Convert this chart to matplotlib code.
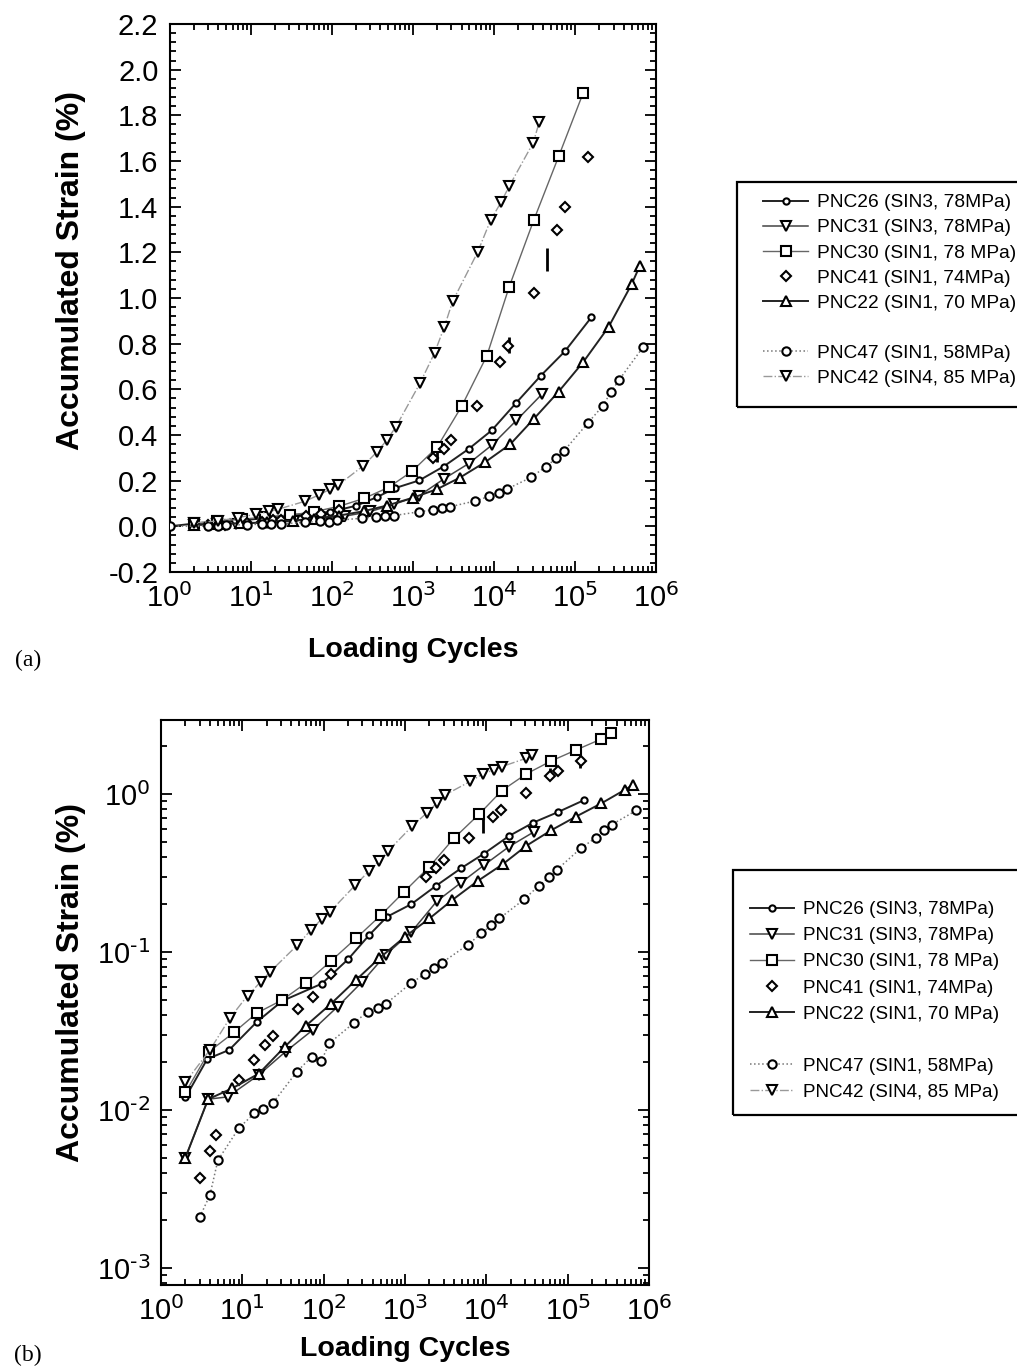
import numpy as np
import matplotlib
matplotlib.use('Agg')
import matplotlib.pyplot as plt
from matplotlib.lines import Line2D
from matplotlib.patches import Rectangle
from matplotlib.ticker import MultipleLocator, FormatStrFormatter, LogLocator, NullFormatter, FuncFormatter

plt.rcParams['font.family'] = ['Liberation Sans', 'DejaVu Sans']
plt.rcParams['mathtext.default'] = 'regular'
plt.rcParams['axes.unicode_minus'] = False

# ---- data (loading cycles, accumulated strain %) ----
pnc26_n = [1, 2, 3.7, 6.9, 15, 31, 95, 200, 363, 600, 1200, 2400, 4900, 9400, 19000, 38000, 75000, 160000]
pnc26_s = [0.0, 0.012, 0.021, 0.024, 0.036, 0.049, 0.063, 0.09, 0.128, 0.167, 0.201, 0.262, 0.339, 0.42, 0.542, 0.66, 0.766, 0.916]

pnc31_n = [2, 3.8, 6.6, 16, 34, 73, 148, 300, 580, 1200, 2450, 4900, 9400, 19000, 39000]
pnc31_s = [0.005, 0.0117, 0.0121, 0.0167, 0.0234, 0.032, 0.045, 0.065, 0.096, 0.134, 0.209, 0.275, 0.355, 0.464, 0.578]

pnc30_n = [2, 3.9, 7.9, 15, 31, 60, 123, 250, 505, 980, 2000, 4000, 8200, 15500, 31000, 63000, 127000, 260000, 340000]
pnc30_s = [0.0129, 0.0234, 0.031, 0.041, 0.0497, 0.0634, 0.0877, 0.122, 0.171, 0.241, 0.347, 0.525, 0.747, 1.05, 1.34, 1.62, 1.90, 2.23, 2.42]

pnc41_n = [3, 4, 4.8, 9.1, 14, 19, 24, 48, 73, 123, 1800, 2400, 3000, 6200, 12000, 15000, 31000, 60000, 76000, 144000]
pnc41_s = [0.0037, 0.0055, 0.0069, 0.0155, 0.0207, 0.0258, 0.0294, 0.0434, 0.052, 0.0726, 0.30, 0.339, 0.38, 0.525, 0.72, 0.79, 1.02, 1.30, 1.40, 1.616]

pnc22_n = [2, 3.8, 7.5, 16, 33, 60, 123, 250, 480, 1000, 2000, 3800, 7800, 16000, 31000, 63000, 127000, 260000, 500000, 630000]
pnc22_s = [0.005, 0.0117, 0.0137, 0.017, 0.025, 0.034, 0.047, 0.0665, 0.091, 0.125, 0.163, 0.213, 0.281, 0.36, 0.47, 0.59, 0.72, 0.873, 1.06, 1.14]

pnc47_n = [1, 3, 4, 5, 9.1, 14, 18, 23.5, 47, 71, 94, 117, 237, 350, 460, 580, 1180, 1760, 2300, 2850, 5900, 8700,
           11500, 14500, 29000, 44000, 59000, 74000, 144000, 220000, 280000, 350000, 700000]
pnc47_s = [0.0, 0.0021, 0.0029, 0.0048, 0.0077, 0.0095, 0.0101, 0.011, 0.0175, 0.0217, 0.0205, 0.0264, 0.0357, 0.0419,
           0.044, 0.0469, 0.0634, 0.0726, 0.079, 0.0855, 0.111, 0.131, 0.148, 0.163, 0.215, 0.262, 0.298, 0.332,
           0.452, 0.527, 0.59, 0.641, 0.787]

pnc42_n = [2, 4, 7, 11.6, 17, 22, 47, 70, 95, 120, 245, 360, 480, 620, 1230, 1860, 2450, 3100, 6300, 9100, 12300,
           15500, 30600, 36300]
pnc42_s = [0.015, 0.024, 0.038, 0.053, 0.065, 0.075, 0.110, 0.138, 0.162, 0.180, 0.265, 0.325, 0.378, 0.436, 0.627,
           0.76, 0.873, 0.985, 1.20, 1.34, 1.42, 1.49, 1.68, 1.77]

# stray vertical marks in the scan (cycles, low, high)
marks_a_n = [45000, 15500, 2000]
marks_a_lo = [1.12, 0.76, 0.28]
marks_a_hi = [1.22, 0.83, 0.36]
marks_b_n = [140000, 9000, 60000]
marks_b_lo = [1.45, 0.57, 1.27]
marks_b_hi = [1.9, 0.77, 1.45]

labels = ['PNC26 (SIN3, 78MPa)', 'PNC31 (SIN3, 78MPa)', 'PNC30 (SIN1, 78 MPa)', 'PNC41 (SIN1, 74MPa)',
          'PNC22 (SIN1, 70 MPa)', 'PNC47 (SIN1, 58MPa)', 'PNC42 (SIN4, 85 MPa)']

data = [(pnc26_n, pnc26_s), (pnc31_n, pnc31_s), (pnc30_n, pnc30_s), (pnc41_n, pnc41_s),
        (pnc22_n, pnc22_s), (pnc47_n, pnc47_s), (pnc42_n, pnc42_s)]

# marker, size, line color, linestyle, linewidth
styles = [('o', 4.5, '#222222', '-', 1.4),
          ('v', 7, '#444444', '-', 1.1),
          ('s', 6.5, '#666666', '-', 1.0),
          ('D', 5.5, 'none', 'none', 0),
          ('^', 7, '#222222', '-', 1.4),
          ('o', 6, '#777777', ':', 1.1),
          ('v', 7, '#999999', '-.', 1.0)]

TICK_FS = 21
XLABEL_FS = 20.5
YLABEL_FS = 23
W, H = 1017, 1372


def pow10(v, pos):
    e = int(round(np.log10(v)))
    return r'$10^{\text{%d}}$' % e


def draw(ax, logy):
    handles = []
    for (n, s), (mk, ms, col, ls, lw), lab in zip(data, styles, labels):
        n = np.array(n, float)
        s = np.array(s, float)
        keep = s > 0 if logy else s <= 2.2
        h, = ax.plot(n[keep], s[keep], marker=mk, ms=ms, mfc='white', mec='black', mew=1.5,
                     color=col, ls=ls, lw=lw, label=lab, zorder=3, clip_on=True)
        handles.append(h)
    return handles


def style_axes(ax, xpad):
    ax.set_xscale('log')
    ax.set_xlim(1, 1e6)
    ax.xaxis.set_major_locator(LogLocator(base=10, numticks=10))
    ax.xaxis.set_minor_locator(LogLocator(base=10, subs=np.arange(2, 10), numticks=20))
    ax.xaxis.set_major_formatter(FuncFormatter(pow10))
    ax.xaxis.set_minor_formatter(NullFormatter())
    ax.tick_params(which='both', direction='in', top=True, right=True, labelsize=TICK_FS, width=1.3)
    ax.tick_params(which='major', length=8, pad=8)
    ax.tick_params(which='minor', length=4)
    for sp in ax.spines.values():
        sp.set_linewidth(1.5)
    ax.set_xlabel('Loading Cycles', fontsize=XLABEL_FS, fontweight='bold', labelpad=xpad)
    ax.set_ylabel('Accumulated Strain (%)', fontsize=YLABEL_FS, fontweight='bold')


fig = plt.figure(figsize=(W / 100, H / 100), dpi=100)

# (a) linear strain
ax1 = fig.add_axes([169.5 / W, 1 - 572 / H, 486.5 / W, 548 / H])
h = draw(ax1, False)
ax1.vlines(marks_a_n, marks_a_lo, marks_a_hi, color='black', lw=2, zorder=2)
style_axes(ax1, 17)
ax1.set_ylim(-0.2, 2.2)
ax1.yaxis.set_major_locator(MultipleLocator(0.2))
ax1.yaxis.set_minor_locator(MultipleLocator(0.04))
ax1.yaxis.set_major_formatter(FormatStrFormatter('%.1f'))
ax1.yaxis.set_label_coords((86 - 169.5) / 486.5, (572 - 270) / 548)

# (b) log strain
ax2 = fig.add_axes([161 / W, 1 - 1285 / H, 488 / W, 565 / H])
draw(ax2, True)
ax2.vlines(marks_b_n, marks_b_lo, marks_b_hi, color='black', lw=2, zorder=2)
style_axes(ax2, 7)
ax2.set_yscale('log')
ax2.set_ylim(7.8e-4, 2.94)
ax2.yaxis.set_major_locator(LogLocator(base=10, numticks=10))
ax2.yaxis.set_minor_locator(LogLocator(base=10, subs=np.arange(2, 10), numticks=20))
ax2.yaxis.set_major_formatter(FuncFormatter(pow10))
ax2.yaxis.set_minor_formatter(NullFormatter())
ax2.yaxis.set_label_coords((86 - 161) / 488, (1285 - 982) / 565)

# legends: frame drawn as a rectangle, entries placed without frame
blank = Line2D([], [], ls='none', label=' ')
hand = h[:5] + [blank] + h[5:]
labs = labels[:5] + [' '] + labels[5:]
legend_boxes = [  # box left, top, bottom, first-entry anchor x, anchor y, labelspacing, font size
    (737, 182, 407, 763, 194, 0.40, 13.8),
    (733, 870, 1115, 750, 901, 0.47, 13.6),
]
for x0, y0, y1, ax_, ay_, lsp, fs in legend_boxes:
    fig.add_artist(Rectangle((x0 / W, 1 - y1 / H), (W + 10 - x0) / W, (y1 - y0) / H,
                             transform=fig.transFigure, fill=False, lw=1.6, ec='black'))
    fig.legend(hand, labs, loc='upper left', bbox_to_anchor=(ax_ / W, 1 - ay_ / H),
               fontsize=fs, frameon=False, handlelength=2.35, labelspacing=lsp,
               borderpad=0, handletextpad=0.45, borderaxespad=0)

fig.text(28 / W, 1 - 660 / H, '(a)', fontsize=17, family='Liberation Serif', ha='center', va='center')
fig.text(28 / W, 1 - 1355 / H, '(b)', fontsize=17, family='Liberation Serif', ha='center', va='center')

fig.savefig('out.png', dpi=100)
